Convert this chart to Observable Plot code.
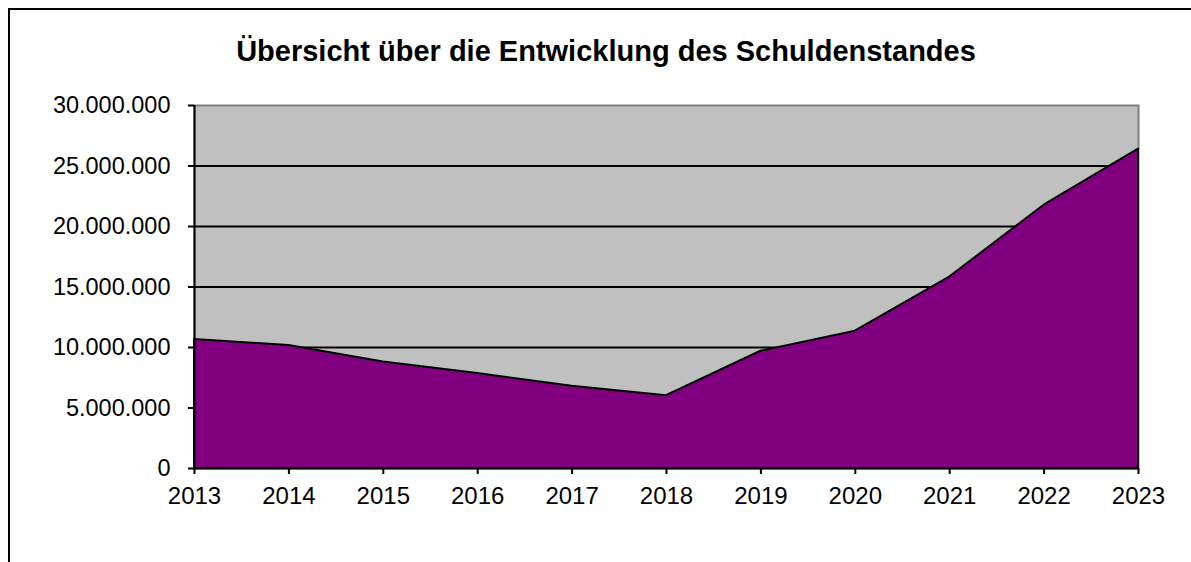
<!DOCTYPE html>
<html>
<head>
<meta charset="utf-8">
<script src="https://cdn.jsdelivr.net/npm/d3@7"></script>
<script src="https://cdn.jsdelivr.net/npm/@observablehq/plot@0.6"></script>
<style>
  html, body { margin: 0; padding: 0; background: #fff; overflow: hidden; }
  #wrap { position: relative; width: 1191px; height: 562px; }
  #frame { position: absolute; left: 8px; top: 8px; width: 1300px; height: 700px; border-left: 2px solid #000; border-top: 2px solid #000; box-sizing: border-box; }
  #title { position: absolute; left: 0; width: 1212px; top: 34px; line-height: 34px; text-align: center; font-family: "Liberation Sans", Arial, sans-serif; font-weight: bold; font-size: 29px; color: #000; }
  #chart { position: absolute; left: 0; top: 0; }
</style>
</head>
<body>
<div id="wrap">
  <div id="frame"></div>
  <div id="chart"></div>
  <div id="title">Übersicht über die Entwicklung des Schuldenstandes</div>
</div>
<script>
const years = [2013, 2014, 2015, 2016, 2017, 2018, 2019, 2020, 2021, 2022, 2023];
const debt = [10660000, 10170000, 8810000, 7850000, 6790000, 6020000, 9690000, 11350000, 15820000, 21760000, 26400000];
const yTicks = [0, 5000000, 10000000, 15000000, 20000000, 25000000, 30000000];
const gridLines = [5000000, 10000000, 15000000, 20000000, 25000000];

const data = years.map((y, i) => ({year: y, value: debt[i]}));
const de = d3.formatLocale({decimal: ",", thousands: ".", grouping: [3], currency: ["", " €"]});
const fmt = de.format(",");

const chart = Plot.plot({
  width: 1191,
  height: 562,
  marginLeft: 194,
  marginRight: 53,
  marginTop: 105,
  marginBottom: 94,
  style: {fontFamily: "Liberation Sans, Arial, sans-serif", fontSize: "24px", color: "#000", background: "transparent", overflow: "visible"},
  x: {domain: [2013, 2023]},
  y: {domain: [0, 30000000]},
  marks: [
    Plot.frame({fill: "#C0C0C0", stroke: "#808080", strokeWidth: 2}),
    Plot.ruleY(gridLines, {stroke: "#000", strokeWidth: 2}),
    Plot.areaY(data, {x: "year", y: "value", fill: "#800080", stroke: "#000", strokeWidth: 2}),
    Plot.ruleX([2013], {stroke: "#000", strokeWidth: 2}),
    Plot.ruleY([0], {stroke: "#000", strokeWidth: 2}),
    Plot.axisY({ticks: yTicks, tickFormat: fmt, tickSize: 6, tickPadding: 18, strokeWidth: 2, stroke: "#000", fill: "#000", label: null, fontSize: 23.5}),
    Plot.axisX({ticks: years, tickFormat: d => String(d), tickSize: 6, tickPadding: 12, strokeWidth: 2, stroke: "#000", fill: "#000", label: null, fontSize: 24})
  ]
});
document.getElementById("chart").appendChild(chart);
</script>
</body>
</html>
